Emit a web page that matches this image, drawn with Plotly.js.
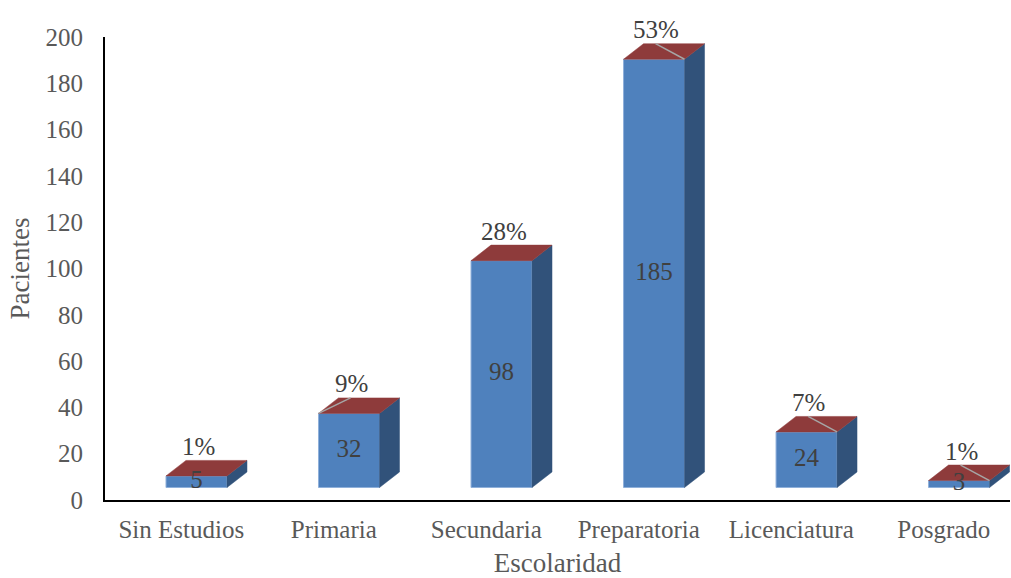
<!DOCTYPE html>
<html>
<head>
<meta charset="utf-8">
<script src="https://cdn.plot.ly/plotly-3.0.1.min.js"></script>
<style>html,body{margin:0;padding:0;background:#fff;}#chart{width:1011px;height:578px;}</style>
</head>
<body>
<div id="chart"></div>
<script>
// ---- data ----
const categories = ['Sin Estudios', 'Primaria', 'Secundaria', 'Preparatoria', 'Licenciatura', 'Posgrado'];
const pacientes = [5, 32, 98, 185, 24, 3];
const pctLabels = ['1%', '9%', '28%', '53%', '7%', '1%'];
const leaderSide = [null, 'left', null, 'right', 'right', 'right'];

// ---- 3D look (style) ----
const FONT = 'Liberation Serif, Times New Roman, serif';
const base = 5.4;        // front face floor (y units)
const fLeft = -0.1, fRight = 0.3; // front face relative to category
const dx = 0.131, dy = 6.7;       // depth offset
const pos = categories.map((_, i) => i);

const sideX = [], sideY = [], topX = [], topY = [], leadX = [], leadY = [];
const valX = [], valY = [];
const annotations = [];
pos.forEach((c, i) => {
  const v = pacientes[i];
  const xr = c + fRight, xl = c + fLeft;
  const yt = base + v;
  sideX.push(xr, xr + dx, xr + dx, xr, xr, null);
  sideY.push(base, base + dy, yt + dy, yt, base, null);
  topX.push(xl, xl + dx, xr + dx, xr, xl, null);
  topY.push(yt, yt + dy, yt + dy, yt, yt, null);
  if (leaderSide[i]) {
    leadX.push(c + 0.11, leaderSide[i] === 'left' ? xl : xr, null);
    leadY.push(yt + dy, yt, null);
  }
  valX.push(c + (fLeft + fRight) / 2);
  valY.push(base + v / 2);
  annotations.push({
    x: c + (fLeft + fRight) / 2 + 0.015, y: yt + dy, xref: 'x', yref: 'y',
    text: pctLabels[i], showarrow: false, xanchor: 'center', yanchor: 'middle', yshift: 14,
    font: {family: FONT, size: 25, color: '#404040'}
  });
});

const traces = [
  {
    type: 'bar', x: pos, y: pacientes, base: base, width: fRight - fLeft, offset: fLeft,
    marker: {color: '#4F81BD', line: {color: '#8FB0DA', width: 1}},
    hoverinfo: 'skip', showlegend: false
  },
  {
    type: 'scatter', mode: 'lines', x: sideX, y: sideY, fill: 'toself',
    fillcolor: '#31527A', line: {color: '#31527A', width: 0.5},
    hoverinfo: 'skip', showlegend: false
  },
  {
    type: 'scatter', mode: 'lines', x: topX, y: topY, fill: 'toself',
    fillcolor: '#8E3B3B', line: {color: '#8E3B3B', width: 0.5},
    hoverinfo: 'skip', showlegend: false
  },
  {
    type: 'scatter', mode: 'lines', x: leadX, y: leadY,
    line: {color: '#A6A6A6', width: 1.5},
    hoverinfo: 'skip', showlegend: false
  },
  {
    type: 'scatter', mode: 'text', x: valX, y: valY, text: pacientes.map(String),
    textposition: 'middle center', textfont: {family: FONT, size: 25, color: '#404040'},
    hoverinfo: 'skip', showlegend: false, cliponaxis: false
  }
];

const layout = {
  width: 1011, height: 578,
  margin: {l: 105, r: 1, t: 37, b: 78},
  paper_bgcolor: '#ffffff', plot_bgcolor: '#ffffff',
  showlegend: false,
  font: {family: FONT, color: '#595959', size: 25},
  xaxis: {
    range: [-0.5, 5.434], tickvals: pos, ticktext: categories,
    showgrid: false, zeroline: false, showline: true, linecolor: '#000000', linewidth: 2,
    ticks: '', ticklabelstandoff: 6, tickfont: {family: FONT, size: 25, color: '#595959'},
    title: {text: 'Escolaridad', font: {family: FONT, size: 27, color: '#595959'}, standoff: 12},
    automargin: false, fixedrange: true
  },
  yaxis: {
    range: [0, 200], dtick: 20, tick0: 0,
    showgrid: false, zeroline: false, showline: true, linecolor: '#000000', linewidth: 2,
    ticks: '', ticklabelstandoff: 15, tickfont: {family: FONT, size: 25, color: '#595959'},
    title: {text: 'Pacientes', font: {family: FONT, size: 27, color: '#595959'}, standoff: 8},
    automargin: false, fixedrange: true
  },
  annotations: annotations
};

Plotly.newPlot('chart', traces, layout, {displayModeBar: false, staticPlot: true});
</script>
</body>
</html>
